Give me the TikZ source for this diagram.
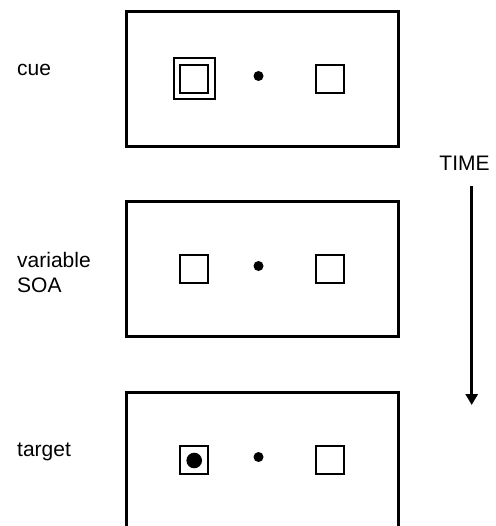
\documentclass[tikz,border=0pt]{standalone}
\usepackage{fontspec}
\setmainfont{Liberation Sans}
\usetikzlibrary{arrows.meta}
\begin{document}
\begin{tikzpicture}[x=1pt,y=-1pt,
  frame/.style={draw, line width=3pt, minimum width=272.5pt, minimum height=135.5pt, inner sep=0pt},
  sq/.style={draw, line width=2pt, minimum size=27.5pt, inner sep=0pt},
  bigsq/.style={draw, line width=2pt, minimum size=41pt, inner sep=0pt},
  fix/.style={circle, fill, minimum size=10pt, inner sep=0pt},
  targ/.style={circle, fill, minimum size=15.6pt, inner sep=0pt},
  lbl/.style={anchor=base west, inner sep=0pt, font=\fontsize{21}{25}\selectfont},
  timearrow/.style={line width=3pt, -{Triangle[width=12pt,length=11pt]}}]
\useasboundingbox (0,0) rectangle (495,526);
\clip (0,0) rectangle (495,525.5);
% frames
\node[frame] (f1) at (262.25,79) {};
\node[frame] (f2) at (262.25,269) {};
\node[frame] (f3) at (262.25,460) {};
% cue frame
\node[bigsq] (c1o) at (194.2,79) {};
\node[sq] (c1l) at (194.2,79) {};
\node[fix] (c1f) at (258.5,76) {};
\node[sq] (c1r) at (330.2,79) {};
% SOA frame
\node[sq] (c2l) at (194.2,269) {};
\node[fix] (c2f) at (258.5,266) {};
\node[sq] (c2r) at (330.2,269) {};
% target frame
\node[sq] (c3l) at (194.2,460) {};
\node[targ] (c3t) at (194.2,460.5) {};
\node[fix] (c3f) at (258.5,457) {};
\node[sq] (c3r) at (330.2,460) {};
% labels
\node[lbl] (lcue) at (17,76) {cue};
\node[lbl] (lvar) at (17,267) {variable};
\node[lbl] (lsoa) at (17,292) {SOA};
\node[lbl] (ltarget) at (17,456) {target};
\node[lbl, anchor=base] (ltime) at (464.5,170.5) {TIME};
% time arrow
\coordinate (tstart) at (471.7,186);
\coordinate (tend) at (471.7,405);
\draw[timearrow] (tstart) -- (tend);
\end{tikzpicture}
\end{document}
